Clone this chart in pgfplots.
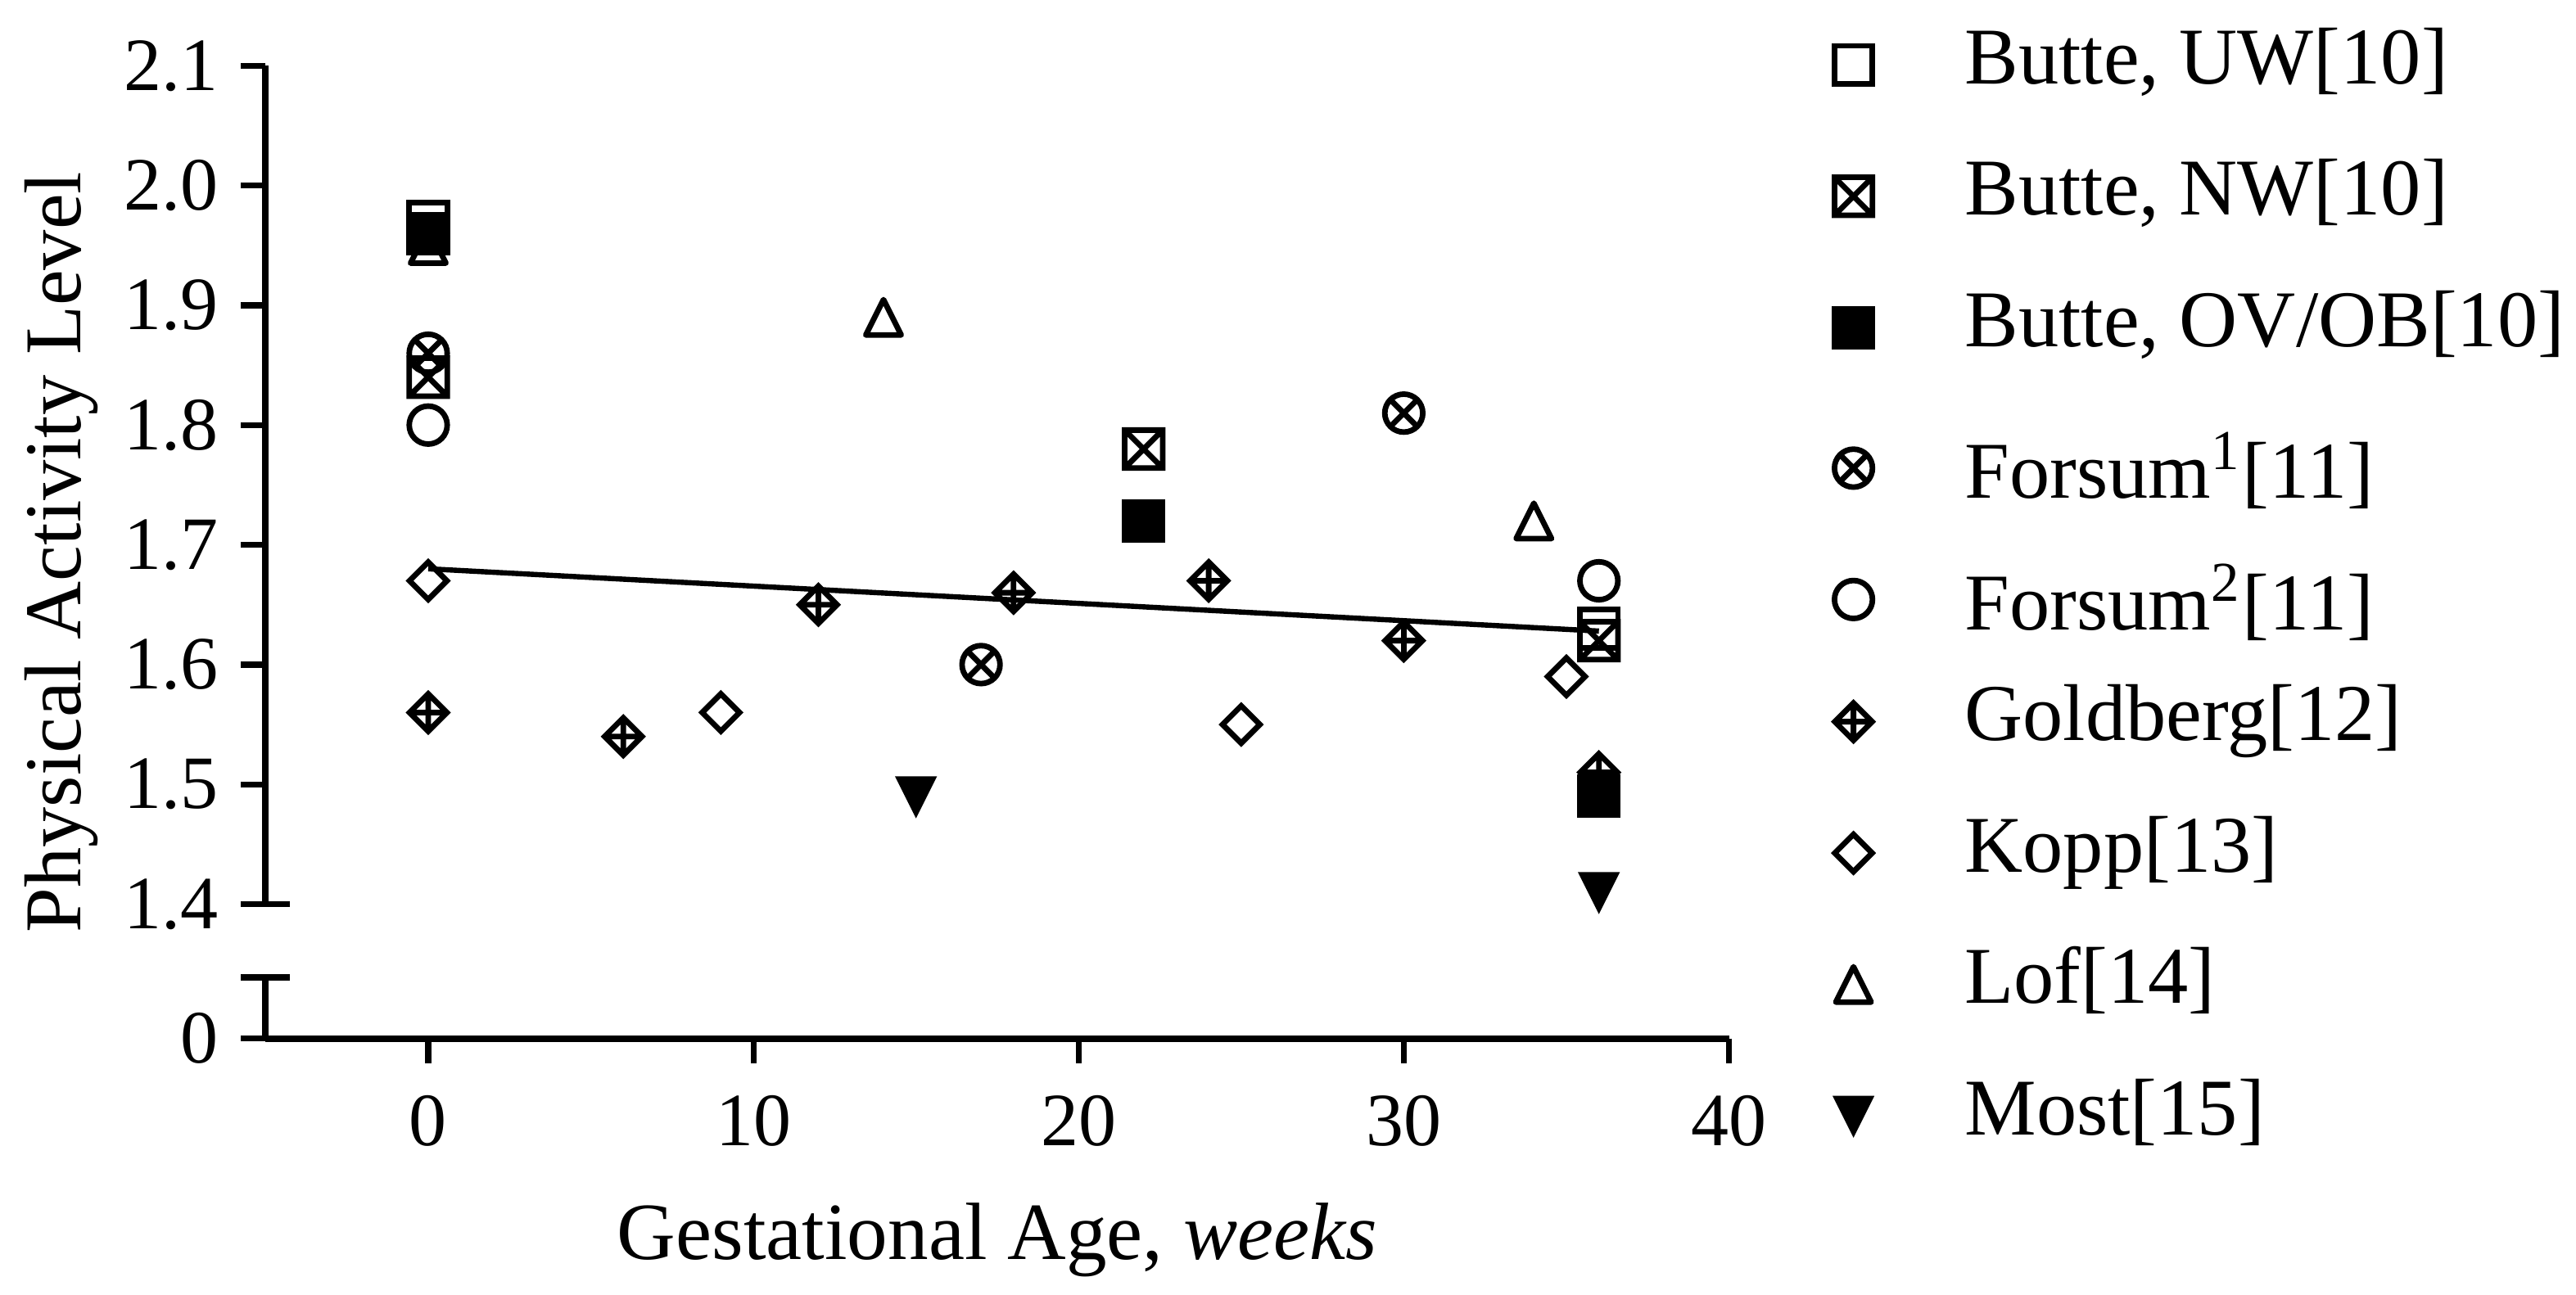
\documentclass[border=0pt]{standalone}
\usepackage{fontspec}
\setmainfont{Liberation Serif}
\usepackage{pgfplots}
\pgfplotsset{compat=1.18}

\def\legshift{0pt}
\tikzset{legshift/.code={\def\legshift{#1}}}

% square with X
\pgfdeclareplotmark{sqx}{%
  \pgfpathrectangle{\pgfqpoint{-\pgfplotmarksize}{-\pgfplotmarksize}}{\pgfqpoint{2\pgfplotmarksize}{2\pgfplotmarksize}}%
  \pgfpathmoveto{\pgfqpoint{-\pgfplotmarksize}{-\pgfplotmarksize}}\pgfpathlineto{\pgfqpoint{\pgfplotmarksize}{\pgfplotmarksize}}%
  \pgfpathmoveto{\pgfqpoint{-\pgfplotmarksize}{\pgfplotmarksize}}\pgfpathlineto{\pgfqpoint{\pgfplotmarksize}{-\pgfplotmarksize}}%
  \pgfusepathqstroke}
% circle with X
\pgfdeclareplotmark{cx}{%
  \pgfpathcircle{\pgfpointorigin}{\pgfplotmarksize}%
  \pgfpathmoveto{\pgfqpoint{-.7071\pgfplotmarksize}{-.7071\pgfplotmarksize}}\pgfpathlineto{\pgfqpoint{.7071\pgfplotmarksize}{.7071\pgfplotmarksize}}%
  \pgfpathmoveto{\pgfqpoint{-.7071\pgfplotmarksize}{.7071\pgfplotmarksize}}\pgfpathlineto{\pgfqpoint{.7071\pgfplotmarksize}{-.7071\pgfplotmarksize}}%
  \pgfusepathqstroke}
% open diamond
\pgfdeclareplotmark{dia}{%
  \pgfpathmoveto{\pgfqpoint{0pt}{\pgfplotmarksize}}\pgfpathlineto{\pgfqpoint{\pgfplotmarksize}{0pt}}%
  \pgfpathlineto{\pgfqpoint{0pt}{-\pgfplotmarksize}}\pgfpathlineto{\pgfqpoint{-\pgfplotmarksize}{0pt}}\pgfpathclose
  \pgfusepathqstroke}
% diamond with plus
\pgfdeclareplotmark{diap}{%
  \pgfpathmoveto{\pgfqpoint{0pt}{\pgfplotmarksize}}\pgfpathlineto{\pgfqpoint{\pgfplotmarksize}{0pt}}%
  \pgfpathlineto{\pgfqpoint{0pt}{-\pgfplotmarksize}}\pgfpathlineto{\pgfqpoint{-\pgfplotmarksize}{0pt}}\pgfpathclose
  \pgfpathmoveto{\pgfqpoint{0pt}{\pgfplotmarksize}}\pgfpathlineto{\pgfqpoint{0pt}{-\pgfplotmarksize}}%
  \pgfpathmoveto{\pgfqpoint{-\pgfplotmarksize}{0pt}}\pgfpathlineto{\pgfqpoint{\pgfplotmarksize}{0pt}}%
  \pgfusepathqstroke}
% open up triangle (bbox centred)
\pgfdeclareplotmark{tup}{%
  \pgfpathmoveto{\pgfqpoint{0pt}{\pgfplotmarksize}}\pgfpathlineto{\pgfqpoint{\pgfplotmarksize}{-\pgfplotmarksize}}%
  \pgfpathlineto{\pgfqpoint{-\pgfplotmarksize}{-\pgfplotmarksize}}\pgfpathclose
  \pgfusepathqstroke}
% filled down triangle (bbox centred)
\pgfdeclareplotmark{tdn}{%
  \pgfpathmoveto{\pgfqpoint{0pt}{-\pgfplotmarksize}}\pgfpathlineto{\pgfqpoint{\pgfplotmarksize}{\pgfplotmarksize}}%
  \pgfpathlineto{\pgfqpoint{-\pgfplotmarksize}{\pgfplotmarksize}}\pgfpathclose
  \pgfusepathqfillstroke}

\begin{document}
\begin{tikzpicture}
\begin{axis}[
  at={(0pt,0pt)}, anchor=south west,
  scale only axis, width=223.4pt, height=148.54pt,
  xmin=-5, xmax=40, ymin=1.28776, ymax=2.1,
  clip=false,
  axis x line*=bottom, axis y line*=left,
  y axis line style={draw=none},
  x axis line style={line width=1pt, black},
  xtick={0,10,20,30,40},
  ytick={1.28776,1.4,1.5,1.6,1.7,1.8,1.9,2.0,2.1},
  yticklabels={0,1.4,1.5,1.6,1.7,1.8,1.9,2.0,2.1},
  tick align=outside, major tick length=3.75pt,
  every tick/.style={black, line width=0.9pt},
  minor tick num=0,
  tick label style={font=\fontsize{11.5}{13}\selectfont},
  /pgf/number format/assume math mode=true,
  xticklabel style={yshift=-1.4pt},
  xlabel={Gestational Age, \textit{weeks}},
  ylabel={Physical Activity Level},
  every axis x label/.style={at={(axis description cs:0.5,-0.2269)}, anchor=base, font=\fontsize{12.4}{14}\selectfont},
  every axis y label/.style={at={(axis description cs:-0.1265,0.5)}, rotate=90, anchor=base, font=\fontsize{12.3}{14}\selectfont},
  legend style={draw=none, fill=none, inner sep=0pt, at={(axis description cs:1.0712,1.0407)}, anchor=north west,
    row sep=8.66pt, font=\fontsize{12.3}{14}\selectfont,
    nodes={inner sep=0pt, text height=8.6pt, text depth=2.8pt},
    /tikz/every odd column/.append style={column sep=14.1pt}},
  legend cell align=left,
  legend image code/.code={\draw[#1] plot coordinates {(0pt,\legshift)};},
]
\addplot[black, line width=0.8pt, forget plot] coordinates {(0,1.680) (36,1.628)};

\addplot[only marks, black, line width=0.85pt, mark=square, mark size=2.9pt]
  coordinates {(0,1.97) (36,1.63)};
\addlegendentry{Butte, UW[10]}
\addplot[only marks, black, line width=0.85pt, mark=sqx, mark size=2.9pt]
  coordinates {(0,1.84) (22,1.78) (36,1.62)};
\addlegendentry{Butte, NW[10]}
\addplot[only marks, black, fill=black, line width=0.85pt, mark=square*, mark size=2.9pt]
  coordinates {(0,1.96) (22,1.72) (36,1.49)};
\addlegendentry{Butte, OV/OB[10]}
\addplot[only marks, black, line width=0.85pt, mark=cx, mark size=2.9pt, legshift=-1.4pt]
  coordinates {(0,1.86) (17,1.60) (30,1.81)};
\addlegendentry{\raisebox{-3.1pt}[0pt][0pt]{Forsum\textsuperscript{1}[11]}}
\addplot[only marks, black, line width=0.85pt, mark=o, mark size=2.9pt, legshift=-1.4pt]
  coordinates {(0,1.80) (36,1.67)};
\addlegendentry{\raisebox{-3.1pt}[0pt][0pt]{Forsum\textsuperscript{2}[11]}}
\addplot[only marks, black, line width=0.85pt, mark=diap, mark size=2.85pt]
  coordinates {(0,1.56) (6,1.54) (12,1.65) (18,1.66) (24,1.67) (30,1.62) (36,1.51)};
\addlegendentry{Goldberg[12]}
\addplot[only marks, black, line width=0.85pt, mark=dia, mark size=2.85pt]
  coordinates {(0,1.67) (9,1.56) (25,1.55) (35,1.59)};
\addlegendentry{Kopp[13]}
\addplot[only marks, black, line width=0.85pt, mark=tup, mark size=2.7pt, mark options={line join=round}]
  coordinates {(0,1.95) (14,1.89) (34,1.72)};
\addlegendentry{Lof[14]}
\addplot[only marks, black, fill=black, line width=0.5pt, mark=tdn, mark size=2.8pt]
  coordinates {(15,1.49) (36,1.41)};
\addlegendentry{Most[15]}

% broken y axis
\draw[line width=1pt, black] (axis cs:-5,1.4) -- (axis cs:-5,2.1);
\draw[line width=1pt, black] (axis cs:-5,1.28776) -- (axis cs:-5,1.3388);
\draw[line width=0.9pt, black] ([xshift=-3.75pt]axis cs:-5,1.4) -- ([xshift=3.75pt]axis cs:-5,1.4);
\draw[line width=0.9pt, black] ([xshift=-3.75pt]axis cs:-5,1.3388) -- ([xshift=3.75pt]axis cs:-5,1.3388);
\end{axis}
\pgfresetboundingbox
\path[use as bounding box] (-40.55pt,-39.16pt) rectangle (352.7pt,158.59pt);
\end{tikzpicture}
\end{document}
